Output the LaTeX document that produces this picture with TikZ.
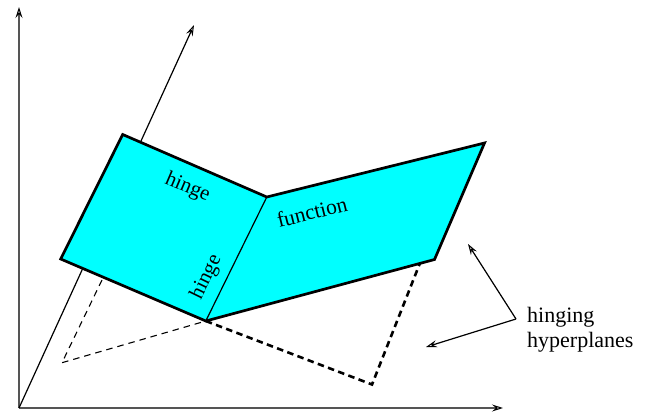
\documentclass[tikz,border=0pt]{standalone}
\usepackage{fontspec}
\setmainfont{Liberation Serif}
\usetikzlibrary{arrows.meta}
\definecolor{axisgray}{HTML}{555555}
\definecolor{facecyan}{HTML}{00FFFF}
\tikzset{
  tip/.style={-{Stealth[open,inset=4pt,length=11pt,width=7pt,line width=1pt,color=black]}},
  axisline/.style={draw=axisgray,line width=1.7pt,tip},
  thinline/.style={draw=black,line width=1.2pt},
  face/.style={fill=facecyan,draw=none},
  edge/.style={draw=black,line width=2.7pt,line join=miter},
  thindash/.style={draw=black,line width=1.1pt,dash pattern=on 6.5pt off 5pt},
  thickdash/.style={draw=black,line width=2.6pt,dash pattern=on 6.5pt off 4.4pt},
  lab/.style={font=\fontsize{21}{25}\selectfont,inner sep=0pt},
  note/.style={font=\fontsize{22}{25}\selectfont,inner sep=0pt,anchor=base west}
}
\begin{document}
\begin{tikzpicture}[x=1pt,y=-1pt]
\useasboundingbox (0,0) rectangle (645,416);
\coordinate (O) at (19,408);
\coordinate (Ytop) at (19,7);
\coordinate (Xend) at (503,408);
\coordinate (Zend) at (194,25);
\coordinate (A) at (122.7,134.5);
\coordinate (B) at (266.8,197);
\coordinate (C) at (484.5,143);
\coordinate (D) at (434.5,259.5);
\coordinate (E) at (205.8,321);
\coordinate (F) at (60.7,259);
\coordinate (P) at (62,362.7);
\coordinate (Q) at (102,280);
\coordinate (R) at (372,384.5);
\coordinate (S) at (420,263);
\coordinate (J) at (516,319);
\coordinate (T1) at (468,244);
\coordinate (T2) at (426,347);
\draw[axisline] (O) -- (Ytop);
\draw[axisline] (O) -- (Xend);
\draw[thinline,tip] (O) -- (Zend);
\draw[thindash] (Q) -- (P) -- (E);
\draw[thickdash] (E) -- (R) -- (S);
\path[face] (A) -- (B) -- (C) -- (D) -- (E) -- (F) -- cycle;
\draw[thinline] (B) -- (E);
\draw[edge] (E) -- (F) -- (A) -- (B) -- (C) -- (D) -- cycle;
\draw[thinline,tip] (J) -- (T1);
\draw[thinline,tip] (J) -- (T2);
\node[lab,rotate=-23] (h1) at (187.5,187.5) {hinge};
\node[lab,rotate=64] (h2) at (206.5,277) {hinge};
\node[lab,rotate=14,font=\fontsize{21.5}{25}\selectfont] (fn) at (312,212) {function};
\node[note] (n1) at (527,322) {hinging};
\node[note] (n2) at (527,347) {hyperplanes};
\end{tikzpicture}
\end{document}
